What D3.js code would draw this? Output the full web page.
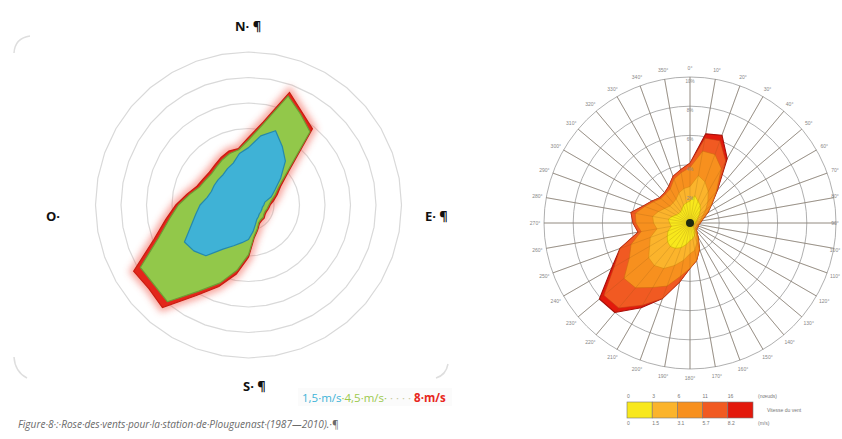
<!DOCTYPE html>
<html>
<head>
<meta charset="utf-8">
<script src="https://cdn.jsdelivr.net/npm/d3@7"></script>
<style>
  body { margin: 0; background: #fff; }
  svg { display: block; }
</style>
</head>
<body>
<div id="container"></div>
<script>
// wind directions, every 10 degrees (0 = north, clockwise)
const dirs = [0, 10, 20, 30, 40, 50, 60, 70, 80, 90, 100, 110, 120, 130, 140, 150, 160, 170,
              180, 190, 200, 210, 220, 230, 240, 250, 260, 270, 280, 290, 300, 310, 320, 330, 340, 350];

// left rose : frequency (%) for each wind speed
const speed15 = [4.5, 5.5, 6.2, 5.3, 4.5, 3.3, 2.4, 1.9, 1.3, 1.2, 1.1, 1.1, 1.1, 1.1, 1.2, 1.3, 1.6, 2.1,
                 2.7, 3.0, 3.4, 4.0, 5.2, 5.6, 5.8, 4.8, 4.2, 3.8, 3.3, 3.1, 3.1, 3.1, 3.1, 3.3, 3.5, 4.1];
const speed45 = [5.1, 6.4, 9.1, 8.2, 7.5, 3.9, 2.7, 2.2, 1.8, 1.6, 1.5, 1.4, 1.4, 1.5, 1.5, 1.6, 2.0, 2.5,
                 3.9, 5.2, 6.5, 7.8, 9.9, 9.7, 9.8, 7.5, 6.3, 5.5, 4.7, 4.1, 3.9, 3.8, 3.9, 4.1, 4.3, 4.4];
const speed8  = [5.3, 6.6, 9.4, 8.4, 7.8, 4.1, 2.9, 2.4, 2.0, 1.7, 1.6, 1.5, 1.5, 1.6, 1.6, 1.7, 2.1, 2.6,
                 4.1, 5.5, 6.8, 8.2, 10.5, 10.2, 10.4, 7.9, 6.6, 5.7, 4.9, 4.3, 4.1, 4.0, 4.1, 4.3, 4.5, 4.5];
const roseRings = [2, 4, 6, 8, 10, 12];

// right rose : stacked frequency (%) by speed class
const cls1 = [1.5, 1.9, 1.6, 1.4, 1.1, 0.8, 0.6, 0.5, 0.4, 0.4, 0.3, 0.3, 0.3, 0.3, 0.4, 0.6, 0.9, 1.1,
              1.2, 1.5, 1.8, 2.0, 2.1, 2.0, 1.8, 1.6, 1.3, 1.4, 1.5, 1.3, 1.1, 1.0, 1.0, 1.1, 1.3, 1.4];
const cls2 = [1.0, 1.4, 1.4, 1.1, 0.8, 0.6, 0.4, 0.3, 0.3, 0.2, 0.2, 0.2, 0.2, 0.2, 0.2, 0.3, 0.5, 0.8,
              0.9, 1.1, 1.3, 1.6, 1.7, 1.7, 1.4, 1.3, 1.0, 1.1, 1.1, 1.0, 0.9, 0.8, 0.8, 0.8, 0.9, 1.0];
const cls3 = [1.3, 1.7, 2.0, 1.8, 0.9, 0.5, 0.4, 0.2, 0.1, 0.1, 0.1, 0.1, 0.1, 0.1, 0.1, 0.2, 0.5, 0.7,
              1.0, 1.1, 1.5, 1.5, 2.0, 2.2, 1.6, 1.4, 1.1, 1.2, 1.2, 1.0, 0.9, 0.8, 0.8, 0.8, 1.0, 1.1];
const cls4 = [0.3, 0.9, 1.0, 0.6, 0.1, 0, 0, 0, 0, 0, 0, 0, 0, 0, 0, 0, 0, 0,
              0, 0.4, 0.9, 1.4, 1.8, 1.8, 1.2, 0.8, 0.2, 0.2, 0.3, 0.1, 0.1, 0.1, 0.1, 0.2, 0.2, 0.2];
const cls5 = [0, 0.3, 0.4, 0.2, 0, 0, 0, 0, 0, 0, 0, 0, 0, 0, 0, 0, 0, 0,
              0, 0, 0, 0.2, 0.4, 0.4, 0.2, 0, 0, 0, 0, 0, 0, 0, 0, 0, 0, 0];
const polarRings = [2, 4, 6, 8, 10];
const ringLabels = ['2%', '4%', '6%', '8%', '10%'];
const legendTop = ['0', '3', '6', '11', '16', '(nœuds)'];
const legendBottom = ['0', '1.5', '3.1', '5.7', '8.2', '(m/s)'];

const width = 842, height = 439;
let svg = d3.select('#container').append('svg')
    .attr('width', width)
    .attr('height', height);

let defs = svg.append('defs');
defs.append('filter').attr('id', 'glow')
    .attr('x', '-20%').attr('y', '-20%').attr('width', '140%').attr('height', '140%')
  .append('feGaussianBlur').attr('stdDeviation', 3.5);

let angle = d3.scaleLinear().domain([0, 360]).range([0, 2 * Math.PI]);

// ---------- left rose ----------
const c1 = {x: 248.5, y: 205};
let r1 = d3.scaleLinear().domain([0, 12]).range([0, 153]);
let g1 = svg.append('g').attr('transform', `translate(${c1.x},${c1.y})`);

// faint corners of the chart frame
svg.append('g')
    .attr('fill', 'none').attr('stroke', '#dedede').attr('stroke-width', 1.5)
    .selectAll('path')
    .data(['M14,53 Q15,38 30,36', 'M14,357 Q15,372 27,378', 'M436,378 Q446,375 448,364'])
    .enter().append('path')
    .attr('d', d => d);

let radarLine = (vals, scale) => d3.lineRadial()
    .angle((d, i) => angle(dirs[i]))
    .radius(d => scale(d))
    .curve(d3.curveLinearClosed)(vals);

g1.append('g')
    .attr('fill', 'none').attr('stroke', '#d9d9d9').attr('stroke-width', 1.2)
    .selectAll('path')
    .data(roseRings)
    .enter().append('path')
    .attr('d', v => radarLine(dirs.map(() => v), r1));

// red glow behind the 8 m/s polygon
g1.append('path')
    .attr('d', radarLine(speed8, r1))
    .attr('fill', '#f26b5b')
    .attr('stroke', '#f04a3a')
    .attr('stroke-width', 8)
    .attr('opacity', 0.5)
    .attr('filter', 'url(#glow)');

g1.append('path')
    .attr('d', radarLine(speed8, r1))
    .attr('fill', '#e3261b')
    .attr('stroke', '#c81c10')
    .attr('stroke-width', 1.2);

g1.append('path')
    .attr('d', radarLine(speed45, r1))
    .attr('fill', '#92c84a')
    .attr('stroke', '#6f9c34')
    .attr('stroke-width', 1.2)
    .attr('stroke-linejoin', 'round');

g1.append('path')
    .attr('d', radarLine(speed15, r1))
    .attr('fill', '#3fb2d6')
    .attr('stroke', '#2589ab')
    .attr('stroke-width', 1.2)
    .attr('stroke-linejoin', 'round');

// cardinal labels
let cardinals = svg.append('g')
    .attr('font-family', '"Open Sans", sans-serif')
    .attr('font-weight', 'bold')
    .attr('font-size', 13)
    .attr('fill', '#111');
cardinals.append('text').attr('x', 235).attr('y', 31).text('N· ¶');
cardinals.append('text').attr('x', 425).attr('y', 221).text('E· ¶');
cardinals.append('text').attr('x', 243).attr('y', 391).text('S· ¶');
cardinals.append('text').attr('x', 46).attr('y', 221).text('O·');

// speed legend
svg.append('rect')
    .attr('x', 298).attr('y', 388).attr('width', 154).attr('height', 18)
    .attr('fill', '#fbfbfb');
let leg = svg.append('text')
    .attr('x', 302).attr('y', 402)
    .attr('font-family', '"Open Sans", sans-serif')
    .attr('font-size', 11.5);
leg.append('tspan').attr('fill', '#3db3d8').text('1,5·m/s');
leg.append('tspan').attr('fill', '#9cc94c').text('·4,5·m/s·');
leg.append('tspan').attr('fill', '#c9c9a0').text(' · · · · ');
leg.append('tspan').attr('fill', '#e8261c').attr('font-weight', 'bold').text('8·m/s');

// caption
svg.append('text')
    .attr('x', 18).attr('y', 428)
    .attr('font-family', '"Open Sans", sans-serif')
    .attr('font-style', 'italic')
    .attr('font-size', 10.1)
    .attr('fill', '#6a6a6a')
    .text('Figure·8·:·Rose·des·vents·pour·la·station·de·Plouguenast·(1987—2010).·¶');

// ---------- right rose ----------
const c2 = {x: 690, y: 223};
let r2 = d3.scaleLinear().domain([0, 10]).range([0, 146]);
let g2 = svg.append('g').attr('transform', `translate(${c2.x},${c2.y})`);

let classes = [cls1, cls2, cls3, cls4, cls5];
let classColors = ['#f8e81c', '#fbb42c', '#f7901e', '#f15a22', '#e3190c'];
let classStroke = ['#c9b000', '#d98a10', '#d06a10', '#c24014', '#a8100a'];

// cumulative totals per class
let rows = dirs.map((d, i) => {
    let row = {dir: d};
    classes.forEach((c, k) => { row['c' + k] = c[i]; });
    return row;
});
let stacked = d3.stack().keys(classes.map((c, k) => 'c' + k))(rows);

// grid circles and spokes
g2.append('g')
    .attr('fill', 'none').attr('stroke', '#9a9a9a').attr('stroke-width', 0.8)
    .selectAll('circle')
    .data(polarRings)
    .enter().append('circle')
    .attr('r', d => r2(d));

g2.append('g')
    .attr('stroke', '#8a8a8a').attr('stroke-width', 0.8)
    .selectAll('line')
    .data(dirs)
    .enter().append('line')
    .attr('x1', 0).attr('y1', 0)
    .attr('x2', d => r2(10) * Math.sin(angle(d)))
    .attr('y2', d => -r2(10) * Math.cos(angle(d)));

// stacked polygons, outermost first
let layer = d3.lineRadial()
    .angle(d => angle(d.data.dir))
    .radius(d => r2(d[1]))
    .curve(d3.curveLinearClosed);

g2.append('g')
    .selectAll('path')
    .data(stacked.slice().reverse())
    .enter().append('path')
    .attr('d', d => layer(d))
    .attr('fill', d => classColors[d.index])
    .attr('stroke', d => classStroke[d.index])
    .attr('stroke-width', d => d.index == 4 ? 1.1 : 0.6)
    .attr('stroke-linejoin', 'round');

// spokes seen through the colours
g2.append('g')
    .attr('stroke', '#7a4a10').attr('stroke-width', 0.5).attr('opacity', 0.35)
    .selectAll('line')
    .data(dirs)
    .enter().append('line')
    .attr('x1', 0).attr('y1', 0)
    .attr('x2', d => r2(10) * Math.sin(angle(d)))
    .attr('y2', d => -r2(10) * Math.cos(angle(d)));

// calm centre
g2.append('circle').attr('r', 4).attr('fill', '#1e2a10');

// ring labels along north spoke
g2.append('g')
    .attr('font-family', 'sans-serif').attr('font-size', 4.5).attr('fill', '#888')
    .attr('text-anchor', 'middle')
    .selectAll('text')
    .data(polarRings)
    .enter().append('text')
    .attr('x', 0)
    .attr('y', d => -r2(d) + 6)
    .text((d, i) => ringLabels[i]);

// direction labels (kept inside the page on the right)
g2.append('g')
    .attr('font-family', 'sans-serif').attr('font-size', 5).attr('fill', '#888')
    .attr('text-anchor', 'middle')
    .selectAll('text')
    .data(dirs)
    .enter().append('text')
    .attr('x', d => Math.min((r2(10) + 9) * Math.sin(angle(d)), 842 - c2.x - 7))
    .attr('y', d => -(r2(10) + 9) * Math.cos(angle(d)) + 2)
    .text(d => d + '°');

// colour legend
let lx = d3.scaleBand().domain(d3.range(5)).range([627, 753]);
let lg = svg.append('g');
lg.selectAll('rect')
    .data(classColors)
    .enter().append('rect')
    .attr('x', (d, i) => lx(i))
    .attr('y', 402)
    .attr('width', lx.bandwidth())
    .attr('height', 16)
    .attr('fill', d => d)
    .attr('stroke', '#777')
    .attr('stroke-width', 0.6);

let edgeX = i => i < 5 ? lx(i) : 758;
lg.append('g')
    .attr('font-family', 'sans-serif').attr('font-size', 5).attr('fill', '#777')
    .selectAll('text')
    .data(legendTop)
    .enter().append('text')
    .attr('x', (d, i) => edgeX(i))
    .attr('y', 398)
    .text(d => d);
lg.append('g')
    .attr('font-family', 'sans-serif').attr('font-size', 5).attr('fill', '#777')
    .selectAll('text')
    .data(legendBottom)
    .enter().append('text')
    .attr('x', (d, i) => edgeX(i))
    .attr('y', 425)
    .text(d => d);
lg.append('text')
    .attr('x', 767).attr('y', 412)
    .attr('font-family', 'sans-serif').attr('font-size', 5).attr('fill', '#777')
    .text('Vitesse du vent');
</script>
</body>
</html>
